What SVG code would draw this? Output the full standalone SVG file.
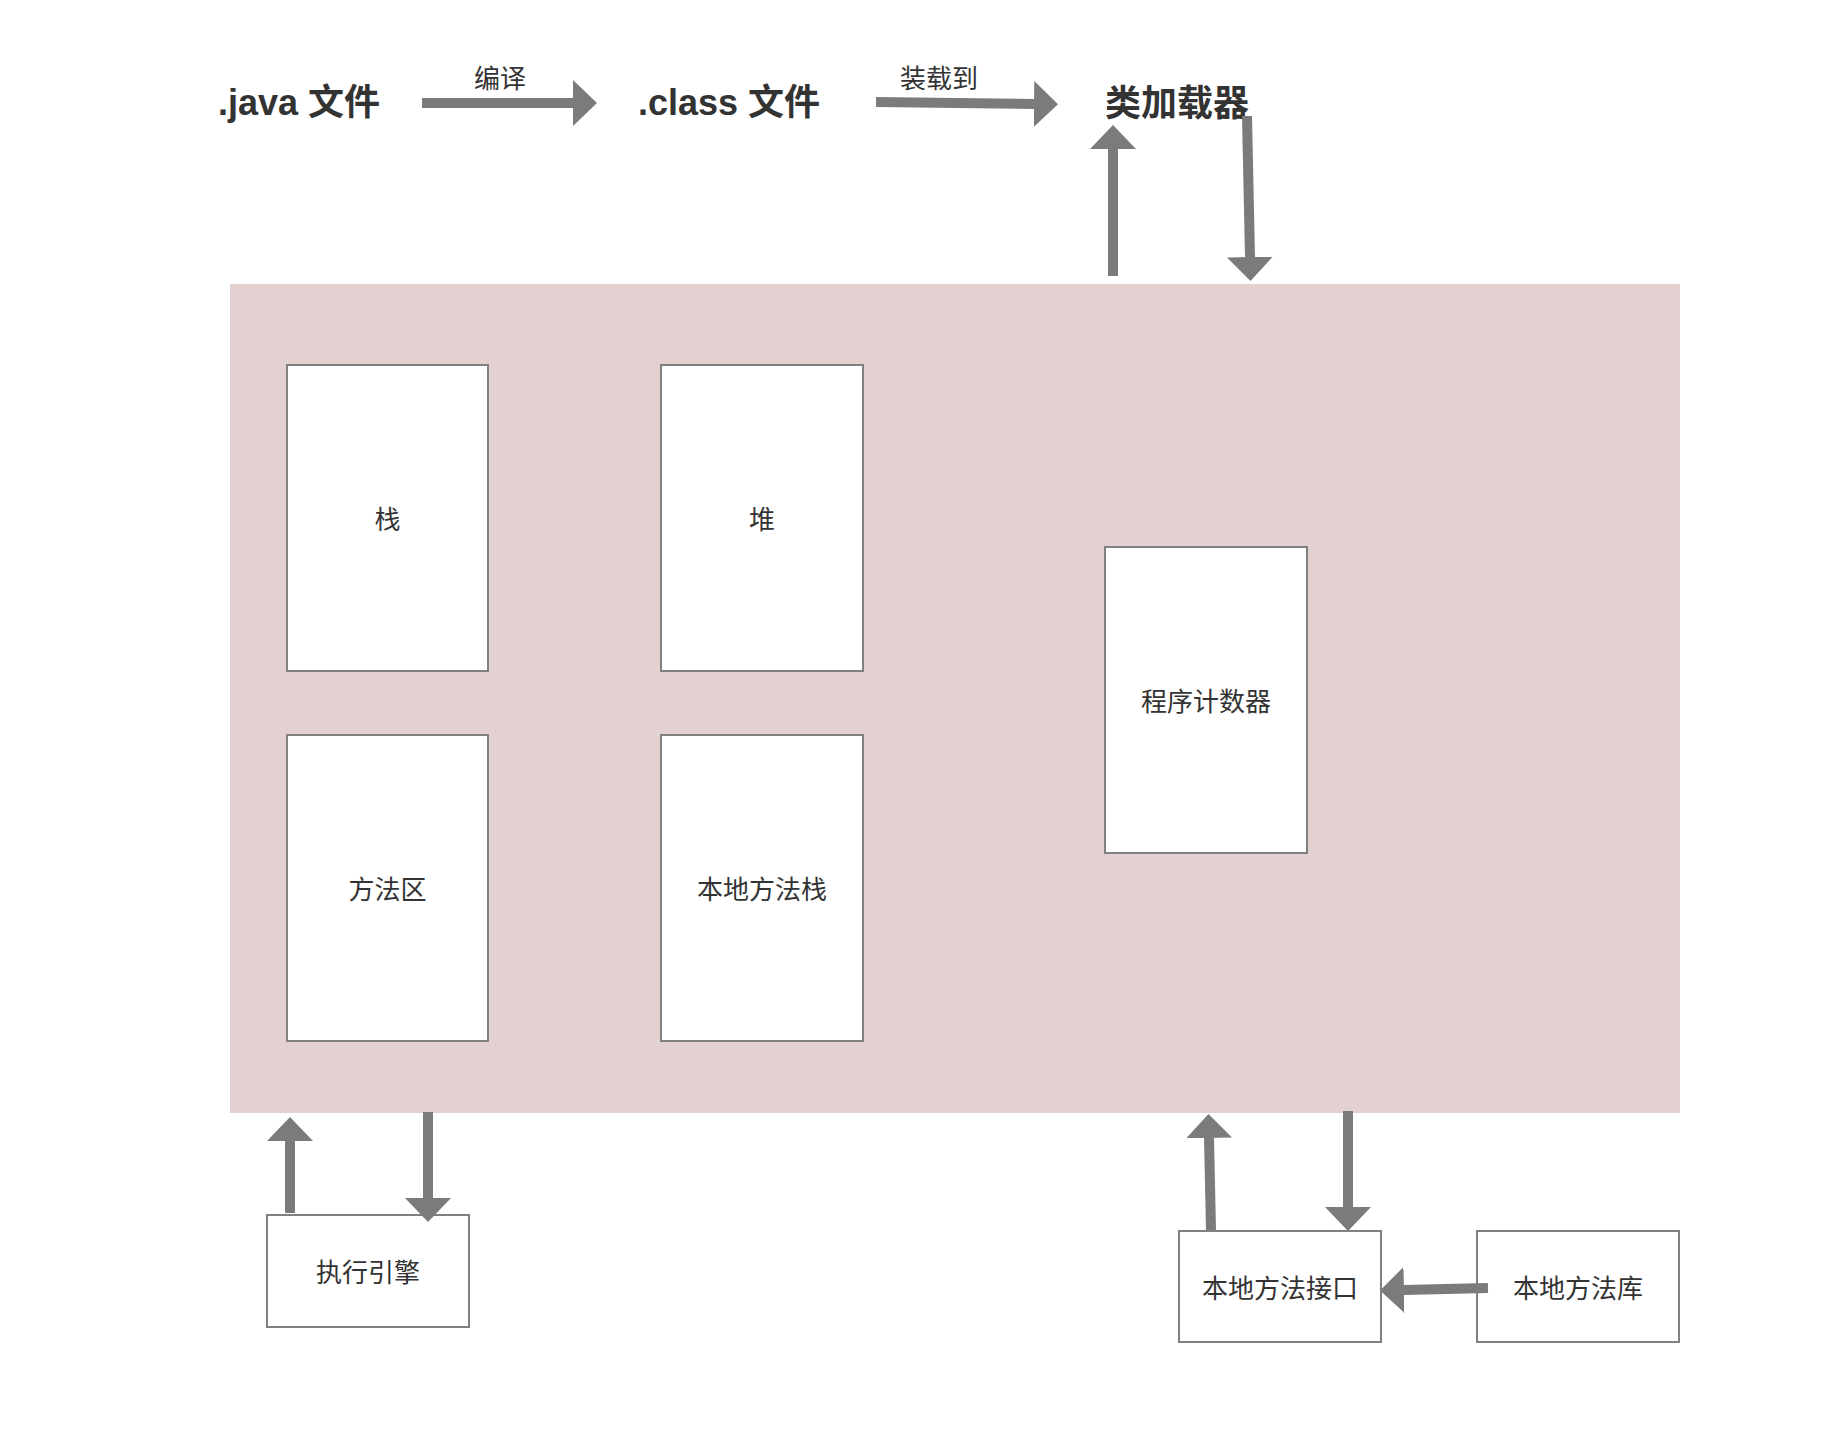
<svg xmlns="http://www.w3.org/2000/svg" width="1840" height="1456" viewBox="0 0 1840 1456">
<style>
.box{fill:#ffffff;stroke:#808080;stroke-width:2}
.lbl{font-family:"Noto Sans CJK SC","Liberation Sans",sans-serif;font-size:26px;fill:#333333;text-anchor:middle;dominant-baseline:central}
.title{font-family:"Liberation Sans","Noto Sans CJK SC",sans-serif;font-size:36px;font-weight:bold;fill:#333333}
.edge{font-family:"Noto Sans CJK SC","Liberation Sans",sans-serif;font-size:26px;fill:#333333;text-anchor:middle}
.arr{stroke:#7b7b7b;stroke-width:10;fill:none;marker-end:url(#head)}
</style>
<defs>
<marker id="head" viewBox="0 0 24 46" markerWidth="24" markerHeight="46" markerUnits="userSpaceOnUse" refX="0" refY="23" orient="auto">
<path d="M0,0 L24,23 L0,46 Z" fill="#7b7b7b"/>
</marker>
</defs>
<rect width="1840" height="1456" fill="#ffffff"/>
<g id="jvm">
<rect x="230" y="284" width="1450" height="829" fill="#e3d0d1"/>
</g>
<g id="java-file"><text class="title" x="218" y="115">.java 文件</text></g>
<g id="class-file"><text class="title" x="638" y="115">.class 文件</text></g>
<g id="class-loader"><text class="title" x="1105" y="116">类加载器</text></g>
<g id="stack"><rect class="box" x="287" y="365" width="201" height="306"/><text class="lbl" x="387.5" y="517">栈</text></g>
<g id="heap"><rect class="box" x="661" y="365" width="202" height="306"/><text class="lbl" x="762" y="517">堆</text></g>
<g id="method-area"><rect class="box" x="287" y="735" width="201" height="306"/><text class="lbl" x="387.5" y="887">方法区</text></g>
<g id="native-stack"><rect class="box" x="661" y="735" width="202" height="306"/><text class="lbl" x="762" y="887">本地方法栈</text></g>
<g id="pc"><rect class="box" x="1105" y="547" width="202" height="306"/><text class="lbl" x="1206" y="699">程序计数器</text></g>
<g id="engine"><rect class="box" x="267" y="1215" width="202" height="112"/><text class="lbl" x="368" y="1270">执行引擎</text></g>
<g id="native-interface"><rect class="box" x="1179" y="1231" width="202" height="111"/><text class="lbl" x="1280" y="1286">本地方法接口</text></g>
<g id="native-lib"><rect class="box" x="1477" y="1231" width="202" height="111"/><text class="lbl" x="1578" y="1286">本地方法库</text></g>
<g id="connectors">
<line class="arr" x1="422" y1="103" x2="573" y2="103"/>
<text class="edge" x="500" y="88">编译</text>
<line class="arr" x1="876" y1="102" x2="1034" y2="104"/>
<text class="edge" x="939" y="88">装载到</text>
<line class="arr" x1="1113" y1="276" x2="1113" y2="149"/>
<line class="arr" x1="1247" y1="116" x2="1250" y2="257"/>
<line class="arr" x1="290" y1="1213" x2="290" y2="1141"/>
<line class="arr" x1="428" y1="1112" x2="428" y2="1198"/>
<line class="arr" x1="1211" y1="1230" x2="1209" y2="1138"/>
<line class="arr" x1="1348" y1="1111" x2="1348" y2="1207"/>
<line class="arr" x1="1488" y1="1288" x2="1404" y2="1290"/>
</g>
</svg>
